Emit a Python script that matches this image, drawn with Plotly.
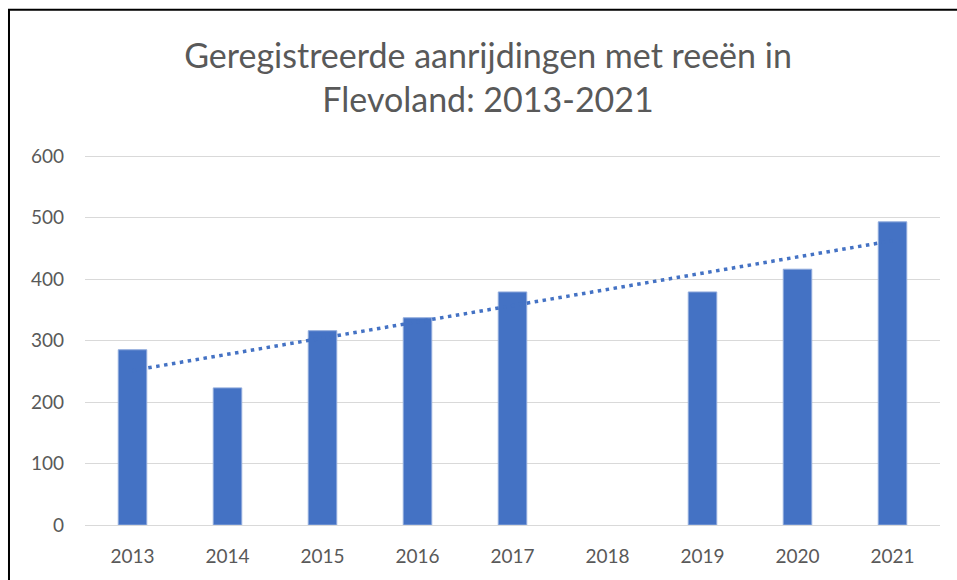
import plotly.graph_objects as go
import numpy as np

# Data
years = ["2013", "2014", "2015", "2016", "2017", "2018", "2019", "2020", "2021"]
collisions = [285, 223, 316, 337, 379, None, 379, 416, 493]

# Linear trend as Excel computes it (gaps left out)
idx = np.array([i + 1 for i, v in enumerate(collisions) if v is not None])
vals = np.array([v for v in collisions if v is not None])
slope, intercept = np.polyfit(idx, vals, 1)
trend_y = [slope * (i + 1) + intercept for i in range(len(years))]

font_family = "Lato, 'Open Sans', sans-serif"
grey = "#595959"

fig = go.Figure()
fig.add_trace(go.Bar(
    x=years, y=collisions,
    marker=dict(color="#4472C4", line=dict(color="#8FAADC", width=1)),
    name="Aanrijdingen",
))
fig.add_trace(go.Scatter(
    x=years, y=trend_y,
    mode="lines",
    line=dict(color="#4472C4", width=3.5, dash="3.5px,4.5px"),
    name="Trend",
))

fig.update_layout(
    width=957, height=580,
    margin=dict(l=85, r=17, t=153, b=55),
    paper_bgcolor="white",
    plot_bgcolor="white",
    showlegend=False,
    bargap=0.7,
    font=dict(family=font_family, color=grey, size=19),
    title=dict(
        text="Geregistreerde aanrijdingen met reeën in<br>Flevoland: 2013-2021",
        x=0.51, xanchor="center",
        y=0.883, yanchor="middle",
        font=dict(size=34, color=grey, family=font_family),
    ),
    xaxis=dict(
        type="category",
        showgrid=False,
        showline=False,
        ticks="",
        ticklabelstandoff=18,
        tickfont=dict(size=19, color=grey),
    ),
    yaxis=dict(
        range=[0, 605],
        tickvals=[0, 100, 200, 300, 400, 500, 600],
        showgrid=True,
        gridcolor="#D9D9D9",
        gridwidth=1,
        zeroline=True,
        zerolinecolor="#D9D9D9",
        zerolinewidth=1,
        ticks="",
        ticklen=0,
        ticklabelstandoff=20,
        tickfont=dict(size=19, color=grey),
    ),
    shapes=[dict(
        type="rect", xref="paper", yref="paper",
        x0=-0.0889, x1=1.1, y0=-0.3, y1=1.385,
        line=dict(color="black", width=2),
        fillcolor="rgba(0,0,0,0)",
        layer="above",
    )],
)

fig.write_html("out.html", config={"displayModeBar": False},
               post_script="document.body.style.margin='0';")
